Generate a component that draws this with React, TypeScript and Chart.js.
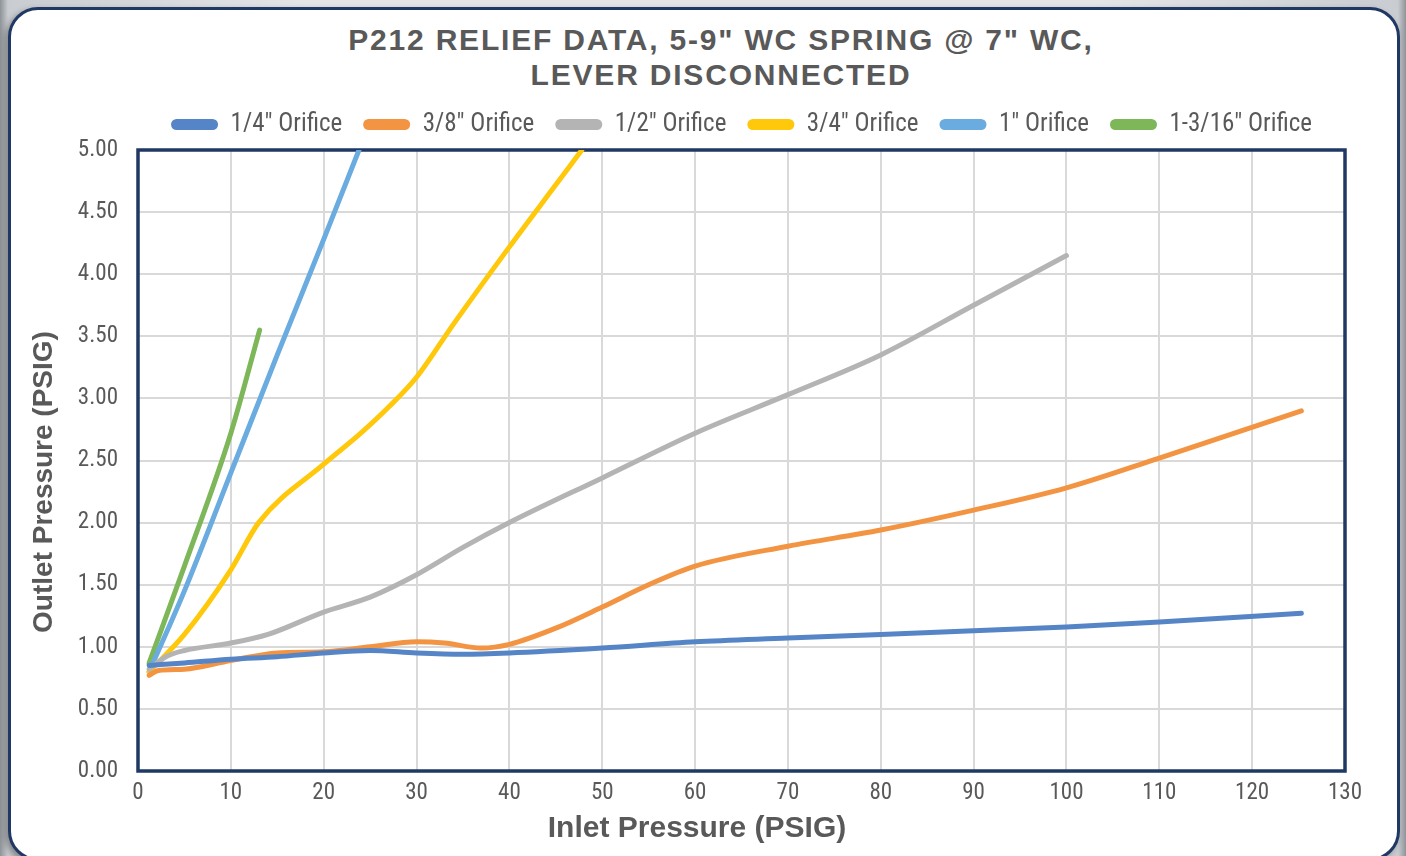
import React, { useEffect, useRef } from "react";
import { Chart, registerables, layouts } from "chart.js";

Chart.register(...registerables);

const titleLines = ['P212 RELIEF DATA, 5-9" WC SPRING @ 7" WC,', "LEVER DISCONNECTED"];
const xAxisTitle = "Inlet Pressure (PSIG)";
const yAxisTitle = "Outlet Pressure (PSIG)";

const seriesNames = ['1/4" Orifice', '3/8" Orifice', '1/2" Orifice', '3/4" Orifice', '1" Orifice', '1-3/16" Orifice'];
const seriesColors = ["#5585c6", "#f39443", "#b4b4b4", "#ffc80a", "#6aabe0", "#7db75a"];

const quarterX = [1.2, 5, 10, 15, 20, 25, 30, 35, 40, 50, 60, 70, 80, 90, 100, 110, 125.3];
const quarterY = [0.85, 0.87, 0.9, 0.92, 0.95, 0.97, 0.95, 0.94, 0.95, 0.99, 1.04, 1.07, 1.1, 1.13, 1.16, 1.2, 1.27];

const threeEighthX = [1.2, 2.2, 5, 10, 15, 20, 25, 30, 33, 37, 40, 45, 50, 55, 60, 70, 80, 90, 100, 110, 125.3];
const threeEighthY = [0.77, 0.81, 0.82, 0.89, 0.95, 0.96, 1.0, 1.04, 1.03, 0.99, 1.02, 1.15, 1.32, 1.5, 1.65, 1.81, 1.94, 2.1, 2.28, 2.52, 2.9];

const halfX = [1.2, 3, 5, 10, 14, 20, 25, 30, 35, 40, 50, 60, 70, 80, 90, 100];
const halfY = [0.82, 0.92, 0.97, 1.03, 1.1, 1.28, 1.4, 1.58, 1.8, 2.0, 2.36, 2.72, 3.03, 3.35, 3.75, 4.15];

const threeQuarterX = [1.2, 5, 10, 13, 20, 24, 27, 30, 34, 40, 45, 47.8];
const threeQuarterY = [0.8, 1.1, 1.62, 2.0, 2.47, 2.72, 2.93, 3.17, 3.6, 4.22, 4.72, 5.0];

const oneInchX = [1.2, 5, 10, 15, 20, 23.8];
const oneInchY = [0.8, 1.45, 2.4, 3.35, 4.28, 5.0];

const oneThreeSixteenthX = [1.2, 5, 10, 13.1];
const oneThreeSixteenthY = [0.87, 1.65, 2.72, 3.55];

const xMin = 0;
const xMax = 130;
const xStep = 10;
const yMin = 0;
const yMax = 5;
const yStep = 0.5;

const seriesX = [quarterX, threeEighthX, halfX, threeQuarterX, oneInchX, oneThreeSixteenthX];
const seriesY = [quarterY, threeEighthY, halfY, threeQuarterY, oneInchY, oneThreeSixteenthY];

const TEXT = "#595959";
const NAVY = "#1f3864";
const COND = "'Liberation Sans Narrow', 'Roboto Condensed', Roboto, sans-serif";
const BOLD = "'Liberation Sans', Arial, sans-serif";

const plotBorder = {
  id: "plotBorder",
  beforeDatasetsDraw(chart: any) {
    const { ctx, chartArea } = chart;
    ctx.save();
    ctx.strokeStyle = NAVY;
    ctx.lineWidth = 3.5;
    ctx.strokeRect(chartArea.left, chartArea.top, chartArea.right - chartArea.left, chartArea.bottom - chartArea.top);
    ctx.restore();
  },
};

const axisTitles = {
  id: "axisTitles",
  afterDraw(chart: any) {
    const { ctx } = chart;
    ctx.save();
    ctx.fillStyle = TEXT;
    ctx.textAlign = "center";
    ctx.textBaseline = "middle";
    ctx.font = `bold 30px ${BOLD}`;
    ctx.fillText(xAxisTitle, 697, 829);
    ctx.font = `bold 28px ${BOLD}`;
    ctx.translate(44, 482);
    ctx.rotate(-Math.PI / 2);
    ctx.fillText(yAxisTitle, 0, 0);
    ctx.restore();
  },
};

const legendGap = {
  id: "legendGap",
  beforeInit(chart: any) {
    layouts.addBox(chart, {
      id: "legendGapBox",
      position: "top",
      weight: 1,
      fullSize: false,
      options: {},
      width: 0,
      height: 0,
      left: 0,
      top: 0,
      right: 0,
      bottom: 0,
      isHorizontal() {
        return true;
      },
      update(maxWidth: number) {
        this.width = maxWidth;
        this.height = 3;
      },
      draw() {},
    } as any);
  },
};

export default function App() {
  const ref = useRef<HTMLCanvasElement | null>(null);

  useEffect(() => {
    if (!ref.current) return;
    const datasets = seriesNames.map((name, i) => ({
      label: name,
      data: seriesX[i].map((x, j) => ({ x, y: seriesY[i][j] })),
      borderColor: seriesColors[i],
      backgroundColor: seriesColors[i],
      borderWidth: 5,
      borderCapStyle: "round" as const,
      borderJoinStyle: "round" as const,
      pointRadius: 0,
      pointHoverRadius: 0,
      showLine: true,
      cubicInterpolationMode: "monotone" as const,
      tension: 0.4,
    }));

    const chart = new Chart(ref.current, {
      type: "scatter",
      data: { datasets },
      plugins: [plotBorder, axisTitles, legendGap],
      options: {
        animation: false,
        responsive: false,
        devicePixelRatio: 1,
        layout: { padding: { left: 20, right: 61, top: 91, bottom: 0 } },
        plugins: {
          title: { display: false },
          tooltip: { enabled: false },
          legend: {
            display: true,
            position: "top",
            fullSize: false,
            labels: {
              color: TEXT,
              font: { family: COND, size: 25 },
              boxWidth: 47,
              boxHeight: 11,
              useBorderRadius: true,
              borderRadius: 5.5,
              padding: 21,
              generateLabels: (c: any) =>
                Chart.defaults.plugins.legend.labels.generateLabels(c).map((l: any) => ({ ...l, lineWidth: 0 })),
            },
          },
        },
        scales: {
          x: {
            type: "linear",
            min: xMin,
            max: xMax,
            afterFit: (s: any) => {
              s.height = 85;
            },
            ticks: {
              stepSize: xStep,
              color: TEXT,
              font: { family: COND, size: 23 },
              padding: 8,
              maxRotation: 0,
            },
            grid: { color: "#d9d9d9", lineWidth: 2, drawTicks: false },
            border: { display: false },
            title: { display: false },
          },
          y: {
            type: "linear",
            min: yMin,
            max: yMax,
            afterFit: (s: any) => {
              s.width = 118;
            },
            ticks: {
              stepSize: yStep,
              color: TEXT,
              font: { family: COND, size: 23 },
              padding: 20,
              callback: (v: any) => Number(v).toFixed(2),
            },
            grid: { color: "#d9d9d9", lineWidth: 2, drawTicks: false },
            border: { display: false },
            title: { display: false },
          },
        },
      },
    });
    return () => chart.destroy();
  }, []);

  return (
    <div
      style={{
        position: "fixed",
        left: 0,
        top: 0,
        width: 1406,
        height: 856,
        overflow: "hidden",
        background: "linear-gradient(to right, #8e9398 0px, #c9ccd0 8px, #e3e5e7 300px, #e3e5e7 1100px, #c9ccd0 1398px, #8e9398 1406px)",
      }}
    >
      <div
        style={{
          position: "absolute",
          left: 8,
          top: 7,
          width: 1386,
          height: 848,
          background: "#ffffff",
          border: `3px solid ${NAVY}`,
          borderRadius: 30,
          boxShadow: "-3px 3px 6px rgba(0,0,0,0.35)",
        }}
      />
      <div
        style={{
          position: "absolute",
          left: 36,
          top: 22,
          width: 1370,
          textAlign: "center",
          fontFamily: BOLD,
          fontWeight: 700,
          fontSize: 30,
          lineHeight: "35px",
          letterSpacing: "1.8px",
          color: TEXT,
        }}
      >
        {titleLines.map((t, i) => (
          <div key={i}>{t}</div>
        ))}
      </div>
      <canvas ref={ref} width={1406} height={856} style={{ position: "absolute", left: 0, top: 0, width: 1406, height: 856 }} />
    </div>
  );
}
